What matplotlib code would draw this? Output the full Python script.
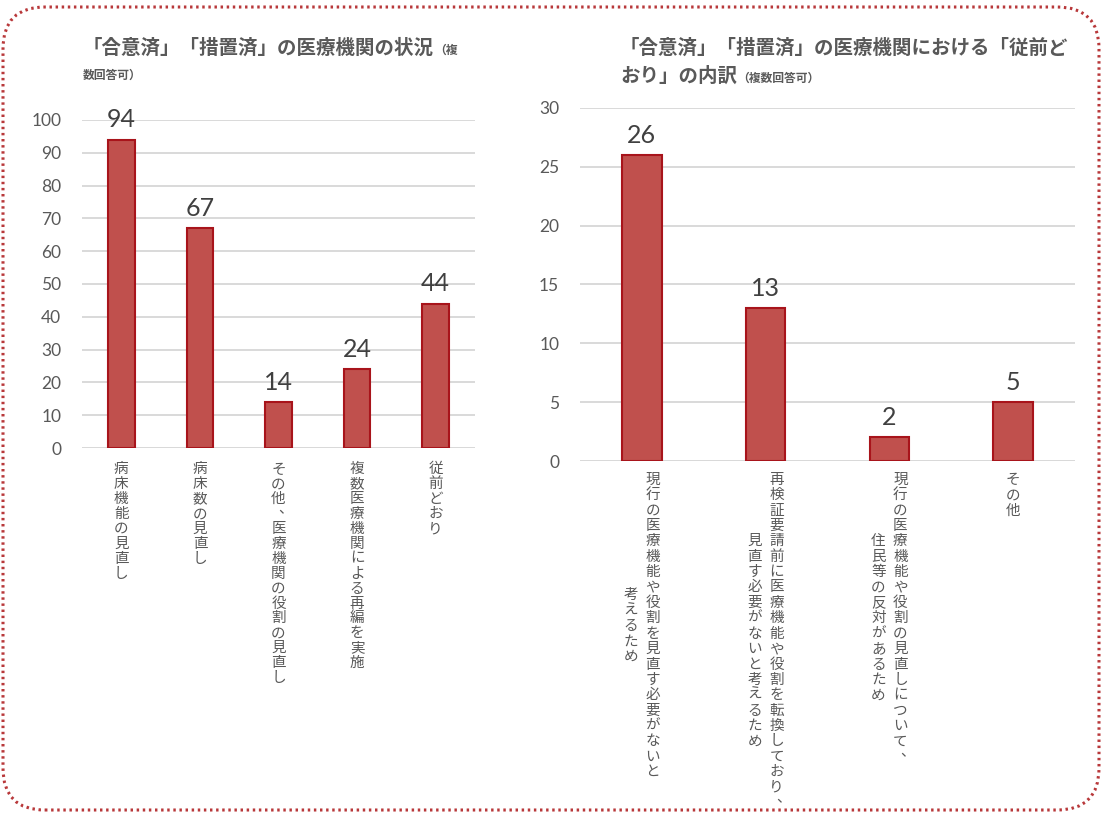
import matplotlib
matplotlib.use("Agg")
import matplotlib.pyplot as plt
from matplotlib.patches import FancyBboxPatch
from matplotlib.transforms import ScaledTranslation

# ---------------- data ----------------
left_title = "「合意済」「措置済」の医療機関の状況"
left_title_small1 = "（複"
left_title_small2 = "数回答可）"
left_labels = [["病床機能の見直し"], ["病床数の見直し"], ["その他、医療機関の役割の見直し"],
               ["複数医療機関による再編を実施"], ["従前どおり"]]
left_values = [94, 67, 14, 24, 44]
left_yticks = [0, 10, 20, 30, 40, 50, 60, 70, 80, 90, 100]

right_title1 = "「合意済」「措置済」の医療機関における「従前ど"
right_title2 = "おり」の内訳"
right_title_small = "（複数回答可）"
right_labels = [["現行の医療機能や役割を見直す必要がないと", "考えるため"],
                ["再検証要請前に医療機能や役割を転換しており、", "見直す必要がないと考えるため"],
                ["現行の医療機能や役割の見直しについて、", "住民等の反対があるため"],
                ["その他"]]
right_values = [26, 13, 2, 5]
right_yticks = [0, 5, 10, 15, 20, 25, 30]

JP = ["Noto Sans CJK JP", "DejaVu Sans"]
NUM = ["Lato", "DejaVu Sans"]
BAR_FACE = "#C0504D"
BAR_EDGE = "#A8141B"
GRID = "#D9D9D9"
TXT = "#595959"
DARK = "#404040"

fig = plt.figure(figsize=(11.02, 8.13), dpi=100)
fig.patch.set_facecolor("white")
DPI = fig.dpi

ax1 = fig.add_axes([82/1102, 1-448/813, 393/1102, 328/813])
ax2 = fig.add_axes([580/1102, 1-461/813, 495/1102, 353/813])


def style(ax, yticks, ncat):
    ax.set_xlim(-0.5, ncat - 0.5)
    ax.set_ylim(yticks[0], yticks[-1])
    ax.set_yticks(yticks)
    ax.set_xticks([])
    for s in ax.spines.values():
        s.set_visible(False)
    ax.grid(axis="y", color=GRID, linewidth=1.4)
    ax.set_axisbelow(True)
    ax.tick_params(axis="y", length=0, pad=15, labelsize=12.5, labelcolor=TXT)
    for t in ax.get_yticklabels():
        t.set_fontfamily(NUM)
    ax.axhline(yticks[0], color=GRID, linewidth=1.4, zorder=1)


def bars(ax, values, width):
    xs = list(range(len(values)))
    ax.bar(xs, values, width=width, color=BAR_FACE, edgecolor=BAR_EDGE, linewidth=1.5, zorder=3)
    for x, v in zip(xs, values):
        ax.annotate(str(v), xy=(x, v), xytext=(0, 6), textcoords="offset points",
                    ha="center", va="bottom", fontsize=18, color=DARK, family=NUM,
                    annotation_clip=False)


def vertical_label(ax, x, columns, top_px, pitch_px, col_px, fs):
    n = len(columns)
    lmax = max(len(c) for c in columns)
    base = ax.get_xaxis_transform()
    for i, col in enumerate(columns):
        dx = ((n - 1) / 2 - i) * col_px
        top = top_px + (lmax - len(col)) * pitch_px / 2
        for j, ch in enumerate(col):
            cy = -(top + (j + 0.5) * pitch_px)
            ox, oy = dx, cy
            if ch in "、。":
                ox += 0.45 * pitch_px
                oy += 0.3 * pitch_px
            tr = base + ScaledTranslation(ox / DPI, oy / DPI, fig.dpi_scale_trans)
            ax.text(x, 0, ch, transform=tr, ha="center", va="center",
                    fontsize=fs, color=TXT, family=JP, clip_on=False)


style(ax1, left_yticks, len(left_values))
bars(ax1, left_values, 0.34)
for i, lab in enumerate(left_labels):
    vertical_label(ax1, i, lab, 14, 14.9, 22, 10.5)

style(ax2, right_yticks, len(right_values))
bars(ax2, right_values, 0.32)
for i, lab in enumerate(right_labels):
    vertical_label(ax2, i, lab, 11, 15.4, 22, 10.5)

# ---------------- titles ----------------
t1 = fig.text(83/1102, 1-54/813, left_title, fontsize=14, weight="bold", color=TXT,
              family=JP, ha="left", va="baseline")
ax1.annotate(left_title_small1, xy=(1, 0.05), xycoords=t1, ha="left", va="bottom",
             fontsize=8.5, weight="bold", color=TXT, family=JP, annotation_clip=False)
fig.text(83/1102, 1-79/813, left_title_small2, fontsize=8.5, weight="bold", color=TXT,
         family=JP, ha="left", va="baseline")

fig.text(620/1102, 1-54/813, right_title1, fontsize=14, weight="bold", color=TXT,
         family=JP, ha="left", va="baseline")
t4 = fig.text(620/1102, 1-82/813, right_title2, fontsize=14, weight="bold", color=TXT,
              family=JP, ha="left", va="baseline")
ax2.annotate(right_title_small, xy=(1, 0.05), xycoords=t4, ha="left", va="bottom",
             fontsize=8.5, weight="bold", color=TXT, family=JP, annotation_clip=False)

# ---------------- dotted rounded border ----------------
border = FancyBboxPatch((0.03, 0.03), 10.96, 8.03,
                        boxstyle="round,pad=0,rounding_size=0.42",
                        transform=fig.dpi_scale_trans, fill=False,
                        edgecolor="#B8383A", linewidth=2.2, linestyle=(0, (0.8, 1.2)))
fig.add_artist(border)

fig.savefig("out.png", dpi=100, facecolor="white")
